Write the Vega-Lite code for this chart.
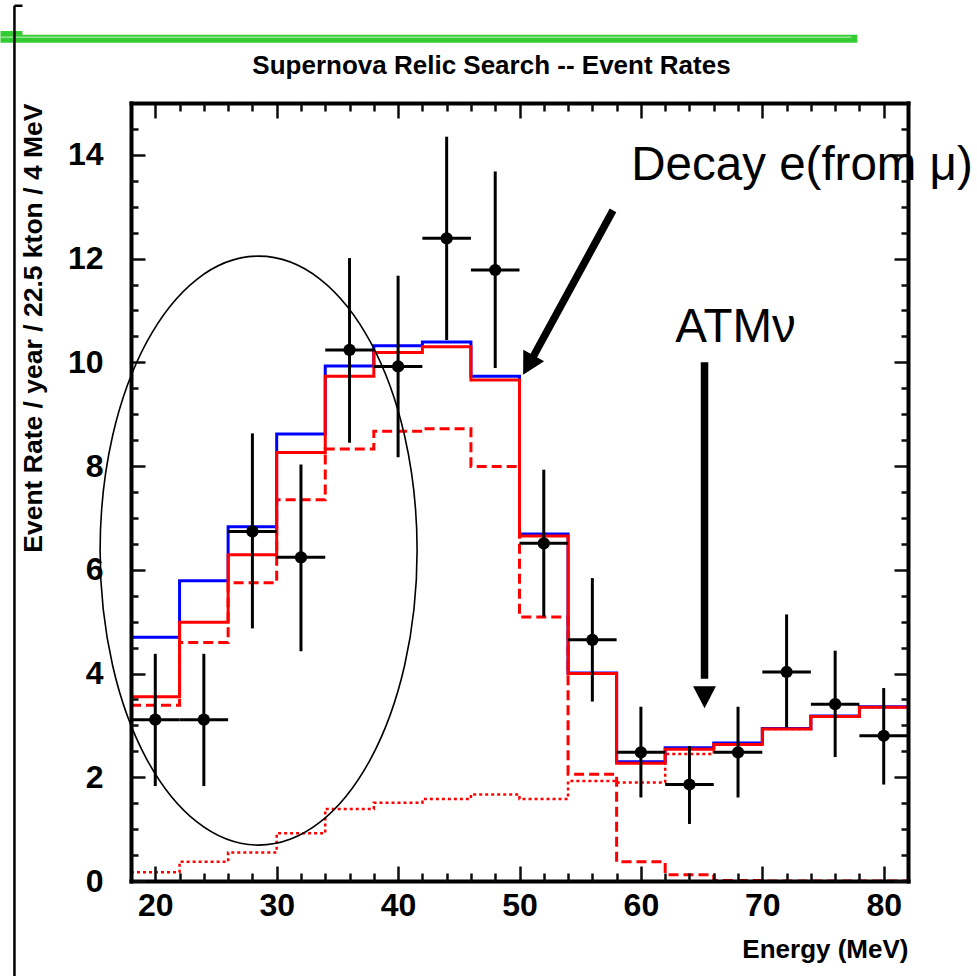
{
  "$schema": "https://vega.github.io/schema/vega-lite/v6.json",
  "width": 777,
  "height": 778,
  "autosize": {"type": "none"},
  "padding": {"left": 131, "top": 103, "right": 69, "bottom": 95},
  "config": {"view": {"stroke": null}, "font": "Liberation Sans"},
  "title": {"text": "Supernova Relic Search -- Event Rates", "fontSize": 26, "fontWeight": "bold", "font": "Liberation Sans", "color": "black", "anchor": "middle", "frame": "group", "dx": -28, "offset": -95, "baseline": "alphabetic"},
  "datasets": {
    "bins": [
      {"E": 18, "blue": 4.70, "red": 3.55, "decay": 3.39, "atm": 0.17},
      {"E": 22, "blue": 5.79, "red": 4.99, "decay": 4.60, "atm": 0.37},
      {"E": 26, "blue": 6.83, "red": 6.29, "decay": 5.75, "atm": 0.55},
      {"E": 30, "blue": 8.62, "red": 8.26, "decay": 7.35, "atm": 0.92},
      {"E": 34, "blue": 9.93, "red": 9.73, "decay": 8.33, "atm": 1.39},
      {"E": 38, "blue": 10.32, "red": 10.19, "decay": 8.67, "atm": 1.51},
      {"E": 42, "blue": 10.39, "red": 10.30, "decay": 8.72, "atm": 1.58},
      {"E": 46, "blue": 9.73, "red": 9.66, "decay": 7.99, "atm": 1.67},
      {"E": 50, "blue": 6.69, "red": 6.65, "decay": 5.09, "atm": 1.58},
      {"E": 54, "blue": 4.01, "red": 4.00, "decay": 2.06, "atm": 1.93},
      {"E": 58, "blue": 2.30, "red": 2.27, "decay": 0.37, "atm": 1.90},
      {"E": 62, "blue": 2.57, "red": 2.54, "decay": 0.12, "atm": 2.45},
      {"E": 66, "blue": 2.66, "red": 2.63, "decay": 0.01, "atm": 2.63},
      {"E": 70, "blue": 2.94, "red": 2.93, "decay": 0, "atm": 2.93},
      {"E": 74, "blue": 3.18, "red": 3.17, "decay": 0, "atm": 3.17},
      {"E": 78, "blue": 3.36, "red": 3.35, "decay": 0, "atm": 3.35},
      {"E": 82, "blue": 3.36, "red": 3.35, "decay": 0, "atm": 3.35}
    ],
    "points": [
      {"E": 20, "Elo": 18, "Ehi": 22, "rate": 3.11, "lo": 1.83, "hi": 4.38},
      {"E": 24, "Elo": 22, "Ehi": 26, "rate": 3.11, "lo": 1.83, "hi": 4.38},
      {"E": 28, "Elo": 26, "Ehi": 30, "rate": 6.74, "lo": 4.87, "hi": 8.63},
      {"E": 32, "Elo": 30, "Ehi": 34, "rate": 6.24, "lo": 4.43, "hi": 8.03},
      {"E": 36, "Elo": 34, "Ehi": 38, "rate": 10.24, "lo": 8.45, "hi": 12.01},
      {"E": 40, "Elo": 38, "Ehi": 42, "rate": 9.92, "lo": 8.17, "hi": 11.67},
      {"E": 44, "Elo": 42, "Ehi": 46, "rate": 12.39, "lo": 10.43, "hi": 14.35},
      {"E": 48, "Elo": 46, "Ehi": 50, "rate": 11.78, "lo": 9.89, "hi": 13.68},
      {"E": 52, "Elo": 50, "Ehi": 54, "rate": 6.51, "lo": 5.10, "hi": 7.93},
      {"E": 56, "Elo": 54, "Ehi": 58, "rate": 4.65, "lo": 3.46, "hi": 5.84},
      {"E": 60, "Elo": 58, "Ehi": 62, "rate": 2.48, "lo": 1.61, "hi": 3.36},
      {"E": 64, "Elo": 62, "Ehi": 66, "rate": 1.86, "lo": 1.10, "hi": 2.60},
      {"E": 68, "Elo": 66, "Ehi": 70, "rate": 2.48, "lo": 1.61, "hi": 3.36},
      {"E": 72, "Elo": 70, "Ehi": 74, "rate": 4.03, "lo": 2.96, "hi": 5.14},
      {"E": 76, "Elo": 74, "Ehi": 78, "rate": 3.41, "lo": 2.39, "hi": 4.44},
      {"E": 80, "Elo": 78, "Ehi": 82, "rate": 2.80, "lo": 1.86, "hi": 3.72}
    ],
    "arrows": [
      {"name": "decay", "label": "Decay e(from μ)", "tx": 59.21, "ty": 13.52, "xs": 57.7, "ys": 12.93, "xe": 50.9, "ye": 10.01, "xt": 50.3, "yt": 9.76},
      {"name": "atm", "label": "ATMν", "tx": 62.83, "ty": 10.40, "xs": 65.24, "ys": 10.0, "xe": 65.24, "ye": 3.9, "xt": 65.24, "yt": 3.33}
    ]
  },
  "layer": [
    {
      "data": {"name": "bins"},
      "mark": {"type": "line", "interpolate": "step-after", "color": "#ff0000", "strokeWidth": 2.5, "strokeDash": [3, 3]},
      "encoding": {
        "x": {"field": "E", "type": "quantitative", "scale": {"domain": [18, 82], "nice": false, "zero": false}, "axis": null},
        "y": {"field": "atm", "type": "quantitative", "scale": {"domain": [0, 15], "nice": false, "zero": false}, "axis": null}
      }
    },
    {
      "data": {"name": "bins"},
      "mark": {"type": "line", "interpolate": "step-after", "color": "#ff0000", "strokeWidth": 3, "strokeDash": [10, 5]},
      "encoding": {
        "x": {"field": "E", "type": "quantitative", "axis": null},
        "y": {"field": "decay", "type": "quantitative", "axis": null}
      }
    },
    {
      "data": {"name": "bins"},
      "mark": {"type": "line", "interpolate": "step-after", "color": "#0000ff", "strokeWidth": 3},
      "encoding": {
        "x": {"field": "E", "type": "quantitative", "axis": null},
        "y": {"field": "blue", "type": "quantitative", "axis": null}
      }
    },
    {
      "data": {"name": "bins"},
      "mark": {"type": "line", "interpolate": "step-after", "color": "#ff0000", "strokeWidth": 3},
      "encoding": {
        "x": {"field": "E", "type": "quantitative", "axis": null},
        "y": {"field": "red", "type": "quantitative", "axis": null}
      }
    },
    {
      "data": {"name": "points"},
      "mark": {"type": "rule", "color": "black", "strokeWidth": 3},
      "encoding": {
        "x": {"field": "E", "type": "quantitative", "axis": null},
        "y": {"field": "lo", "type": "quantitative", "axis": null},
        "y2": {"field": "hi"}
      }
    },
    {
      "data": {"name": "points"},
      "mark": {"type": "rule", "color": "black", "strokeWidth": 3},
      "encoding": {
        "x": {"field": "Elo", "type": "quantitative", "axis": null},
        "x2": {"field": "Ehi"},
        "y": {"field": "rate", "type": "quantitative", "axis": null}
      }
    },
    {
      "data": {"name": "points"},
      "mark": {"type": "point", "shape": "circle", "filled": true, "color": "black", "size": 150, "opacity": 1},
      "encoding": {
        "x": {"field": "E", "type": "quantitative",
          "axis": {"orient": "bottom", "values": [20, 30, 40, 50, 60, 70, 80], "format": "d",
            "title": "Energy (MeV)", "titleAnchor": "end", "titleFontSize": 26, "titleFontWeight": "bold", "titleColor": "#000000", "titlePadding": 15,
            "labelFontSize": 32, "labelFontWeight": "bold", "labelColor": "#000000",
            "labelPadding": 24, "labelOverlap": false, "labelFlush": false, "labelBound": false,
            "ticks": true, "tickSize": -15, "tickWidth": 2.5, "tickColor": "#0d0d0d", "tickOpacity": 1,
            "domain": true, "domainWidth": 4, "domainColor": "#000000", "domainCap": "square", "grid": false, "zindex": 1}},
        "y": {"field": "rate", "type": "quantitative",
          "axis": {"orient": "left", "values": [0, 2, 4, 6, 8, 10, 12, 14], "format": "d",
            "title": "Event Rate / year / 22.5 kton / 4 MeV", "titleAnchor": "end", "titleFontSize": 26.5, "titleFontWeight": "bold", "titleColor": "#000000", "titlePadding": 20,
            "labelFontSize": 32, "labelFontWeight": "bold", "labelColor": "#000000",
            "labelPadding": 42, "labelOverlap": false, "labelFlush": false, "labelBound": false,
            "ticks": true, "tickSize": -14, "tickWidth": 2.5, "tickColor": "#0d0d0d", "tickOpacity": 1,
            "domain": true, "domainWidth": 4, "domainColor": "#000000", "domainCap": "square", "grid": false, "zindex": 1}}
      }
    },
    {
      "data": {"values": [{"E": 28.51, "rate": 6.37}]},
      "mark": {"type": "point", "shape": "M -1 0 A 1 1.858 0 1 0 1 0 A 1 1.858 0 1 0 -1 0 Z", "filled": false, "color": "black", "strokeWidth": 1.6, "size": 100489, "opacity": 1, "clip": false},
      "encoding": {
        "x": {"field": "E", "type": "quantitative",
          "axis": {"orient": "top", "values": [20, 30, 40, 50, 60, 70, 80], "title": null, "labels": false,
            "ticks": true, "tickSize": -15, "tickWidth": 2.5, "tickColor": "#0d0d0d", "tickOpacity": 1,
            "domain": true, "domainWidth": 4, "domainColor": "#000000", "domainCap": "square", "grid": false, "zindex": 1}},
        "y": {"field": "rate", "type": "quantitative",
          "axis": {"orient": "right", "values": [0, 2, 4, 6, 8, 10, 12, 14], "title": null, "labels": false,
            "ticks": true, "tickSize": -14, "tickWidth": 2.5, "tickColor": "#0d0d0d", "tickOpacity": 1,
            "domain": true, "domainWidth": 4, "domainColor": "#000000", "domainCap": "square", "grid": false, "zindex": 1}}
      }
    },
    {
      "data": {"name": "arrows"},
      "mark": {"type": "rule", "color": "black", "strokeWidth": 7.5, "clip": false},
      "encoding": {
        "x": {"field": "xs", "type": "quantitative", "axis": null},
        "y": {"field": "ys", "type": "quantitative", "axis": null},
        "x2": {"field": "xe"},
        "y2": {"field": "ye"}
      }
    },
    {
      "data": {"name": "arrows"},
      "transform": [{"filter": "datum.name === 'decay'"}],
      "mark": {"type": "point", "shape": "M 0 0 L 0.54 1 L -0.54 1 Z", "filled": true, "color": "black", "size": 1936, "angle": 208.7, "opacity": 1, "clip": false},
      "encoding": {
        "x": {"field": "xt", "type": "quantitative",
          "axis": {"orient": "bottom", "values": [18, 22, 24, 26, 28, 32, 34, 36, 38, 42, 44, 46, 48, 52, 54, 56, 58, 62, 64, 66, 68, 72, 74, 76, 78, 82], "title": null, "labels": false,
            "ticks": true, "tickSize": -8, "tickWidth": 2.5, "tickColor": "#0d0d0d", "tickOpacity": 1, "domain": false, "grid": false, "zindex": 1}},
        "y": {"field": "yt", "type": "quantitative",
          "axis": {"orient": "left", "values": [0.5, 1, 1.5, 2.5, 3, 3.5, 4.5, 5, 5.5, 6.5, 7, 7.5, 8.5, 9, 9.5, 10.5, 11, 11.5, 12.5, 13, 13.5, 14.5], "title": null, "labels": false,
            "ticks": true, "tickSize": -7, "tickWidth": 2.5, "tickColor": "#0d0d0d", "tickOpacity": 1, "domain": false, "grid": false, "zindex": 1}}
      }
    },
    {
      "data": {"name": "arrows"},
      "transform": [{"filter": "datum.name === 'atm'"}],
      "mark": {"type": "point", "shape": "M 0 0 L 0.52 1 L -0.52 1 Z", "filled": true, "color": "black", "size": 1936, "angle": 180, "opacity": 1, "clip": false},
      "encoding": {
        "x": {"field": "xt", "type": "quantitative",
          "axis": {"orient": "top", "values": [18, 22, 24, 26, 28, 32, 34, 36, 38, 42, 44, 46, 48, 52, 54, 56, 58, 62, 64, 66, 68, 72, 74, 76, 78, 82], "title": null, "labels": false,
            "ticks": true, "tickSize": -8, "tickWidth": 2.5, "tickColor": "#0d0d0d", "tickOpacity": 1, "domain": false, "grid": false, "zindex": 1}},
        "y": {"field": "yt", "type": "quantitative",
          "axis": {"orient": "right", "values": [0.5, 1, 1.5, 2.5, 3, 3.5, 4.5, 5, 5.5, 6.5, 7, 7.5, 8.5, 9, 9.5, 10.5, 11, 11.5, 12.5, 13, 13.5, 14.5], "title": null, "labels": false,
            "ticks": true, "tickSize": -7, "tickWidth": 2.5, "tickColor": "#0d0d0d", "tickOpacity": 1, "domain": false, "grid": false, "zindex": 1}}
      }
    },
    {
      "data": {"name": "arrows"},
      "mark": {"type": "text", "align": "left", "baseline": "alphabetic", "font": "Liberation Sans", "fontSize": 47.5, "color": "black", "clip": false},
      "encoding": {
        "x": {"field": "tx", "type": "quantitative", "axis": null},
        "y": {"field": "ty", "type": "quantitative", "axis": null},
        "text": {"field": "label"}
      }
    },
    {
      "data": {"values": [{"x": 7.25, "xe": 77.83, "y": 16.24}]},
      "mark": {"type": "rule", "color": "#33cc33", "strokeWidth": 8, "clip": false},
      "encoding": {
        "x": {"field": "x", "type": "quantitative", "axis": null},
        "x2": {"field": "xe"},
        "y": {"field": "y", "type": "quantitative", "axis": null}
      }
    },
    {
      "data": {"values": [{"x": 7.25, "xe": 9.06, "y": 16.35}]},
      "mark": {"type": "rule", "color": "#33cc33", "strokeWidth": 4, "clip": false},
      "encoding": {
        "x": {"field": "x", "type": "quantitative", "axis": null},
        "x2": {"field": "xe"},
        "y": {"field": "y", "type": "quantitative", "axis": null}
      }
    },
    {
      "data": {"values": [{"x": 7.25, "xe": 77.34, "y": 16.27}]},
      "mark": {"type": "rule", "color": "#c8f0c8", "strokeWidth": 1, "clip": false},
      "encoding": {
        "x": {"field": "x", "type": "quantitative", "axis": null},
        "x2": {"field": "xe"},
        "y": {"field": "y", "type": "quantitative", "axis": null}
      }
    },
    {
      "data": {"values": [{"x": 8.4, "y": 16.875, "ye": -1.83}]},
      "mark": {"type": "rule", "color": "black", "strokeWidth": 2.5, "clip": false},
      "encoding": {
        "x": {"field": "x", "type": "quantitative", "axis": null},
        "y": {"field": "y", "type": "quantitative", "axis": null},
        "y2": {"field": "ye"}
      }
    },
    {
      "data": {"values": [{"x": 8.4, "xe": 9.06, "y": 16.875}]},
      "mark": {"type": "rule", "color": "black", "strokeWidth": 2.5, "clip": false},
      "encoding": {
        "x": {"field": "x", "type": "quantitative", "axis": null},
        "x2": {"field": "xe"},
        "y": {"field": "y", "type": "quantitative", "axis": null}
      }
    }
  ],
  "resolve": {"axis": {"x": "independent", "y": "independent"}}
}
